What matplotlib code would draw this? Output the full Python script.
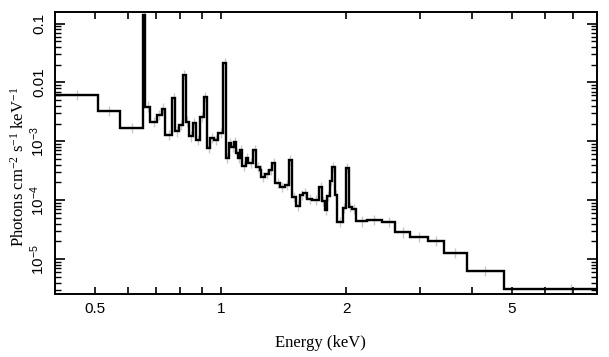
import matplotlib
matplotlib.use("Agg")
import matplotlib.pyplot as plt
import numpy as np
from matplotlib.ticker import FixedLocator, NullFormatter, LogLocator

# ---- data ----
bin_edges = [0.40, 0.5085, 0.5744, 0.6508, 0.6580, 0.6766, 0.7035, 0.7211, 0.7355,
             0.7641, 0.7769, 0.7921, 0.8122, 0.8236, 0.8397, 0.8564, 0.8730, 0.8926,
             0.9101, 0.9254, 0.9435, 0.9646, 0.9835, 1.0140, 1.0281, 1.0453, 1.0600,
             1.0747, 1.0867, 1.0987, 1.1141, 1.1265, 1.1517, 1.1646, 1.1973, 1.2174,
             1.2413, 1.2516, 1.2762, 1.3048, 1.3304, 1.3527, 1.3868, 1.4257, 1.4576,
             1.4821, 1.5153, 1.5535, 1.5796, 1.6105, 1.6557, 1.7211, 1.7500, 1.7744,
             1.7991, 1.8243, 1.8446, 1.8756, 1.8965, 1.9606, 1.9937, 2.0271, 2.0669,
             2.1132, 2.2424, 2.4363, 2.6231, 2.8502, 3.1405, 3.4277, 3.9021, 4.7804,
             10.0]

flux = [6.11e-3, 3.31e-3, 1.70e-3, 1.394e-1, 3.90e-3, 2.13e-3, 2.80e-3, 3.60e-3,
        1.28e-3, 5.43e-3, 1.47e-3, 1.89e-3, 1.335e-2, 2.17e-3, 1.21e-3, 2.05e-3,
        1.05e-3, 2.59e-3, 5.65e-3, 7.69e-4, 1.14e-3, 1.05e-3, 1.38e-3, 2.14e-2,
        5.21e-4, 9.36e-4, 8.00e-4, 9.73e-4, 6.33e-4, 5.21e-4, 7.12e-4, 3.81e-4,
        5.21e-4, 4.28e-4, 7.12e-4, 3.66e-4, 3.26e-4, 2.48e-4, 2.79e-4, 3.26e-4,
        4.28e-4, 1.96e-4, 1.67e-4, 1.81e-4, 4.81e-4, 1.13e-4, 7.97e-5, 1.23e-4,
        1.33e-4, 1.05e-4, 1.01e-4, 1.67e-4, 9.69e-5, 6.82e-5, 1.18e-4, 2.12e-4,
        3.66e-4, 1.23e-4, 4.27e-5, 7.37e-5, 3.52e-4, 7.67e-5, 7.09e-5, 4.35e-5,
        4.61e-5, 4.21e-5, 2.83e-5, 2.34e-5, 2.03e-5, 1.27e-5, 6.28e-6, 3.11e-6]

err_factor = 1.22  # multiplicative size of the grey error bars

x_major = [0.5, 1, 2, 5]
x_major_labels = ["0.5", "1", "2", "5"]
x_minor = [0.6, 0.7, 0.8, 0.9, 3, 4, 6, 7]
y_major = [1e-5, 1e-4, 1e-3, 1e-2, 1e-1]
y_major_labels = [r"$\mathsf{10^{-5}}$", r"$\mathsf{10^{-4}}$", r"$\mathsf{10^{-3}}$",
                  "0.01", "0.1"]

# ---- style ----
plt.rcParams["mathtext.fontset"] = "custom"
plt.rcParams["mathtext.rm"] = "Liberation Serif"
plt.rcParams["mathtext.it"] = "Liberation Serif:italic"
plt.rcParams["mathtext.sf"] = "Liberation Sans"
plt.rcParams["font.family"] = ["Liberation Sans", "DejaVu Sans"]

fig = plt.figure(figsize=(6.09, 3.57), dpi=100)
ax = fig.add_axes([55 / 609, 1 - 294 / 357, (597 - 55) / 609, (294 - 12) / 357])

edges = np.array(bin_edges)
vals = np.array(flux)
centers = np.sqrt(edges[:-1] * edges[1:])
xerr = [centers - edges[:-1], edges[1:] - centers]
yerr = [vals - vals / err_factor, vals * err_factor - vals]

ax.errorbar(centers, vals, xerr=xerr, yerr=yerr, fmt="none", ecolor="#c8c8c8",
            elinewidth=1.0, capsize=0, zorder=1)
ax.stairs(vals, edges, baseline=None, color="black", linewidth=1.7, zorder=3)

ax.set_xscale("log")
ax.set_yscale("log")
ax.set_xlim(0.4, 8.0)
ax.set_ylim(2.555e-6, 0.157)

ax.xaxis.set_major_locator(FixedLocator(x_major))
ax.set_xticklabels(x_major_labels)
ax.xaxis.set_minor_locator(FixedLocator(x_minor))
ax.xaxis.set_minor_formatter(NullFormatter())

ax.yaxis.set_major_locator(FixedLocator(y_major))
ax.set_yticklabels(y_major_labels)
ax.yaxis.set_minor_locator(LogLocator(base=10, subs=np.arange(2, 10), numticks=20))
ax.yaxis.set_minor_formatter(NullFormatter())

for sp in ax.spines.values():
    sp.set_linewidth(1.4)

ax.tick_params(axis="x", which="both", direction="in", top=True, bottom=True,
               length=5, width=1.2, labelsize=11, pad=6)
ax.tick_params(axis="y", which="major", direction="in", left=True, right=True,
               length=7, width=1.2, labelsize=11, pad=6)
ax.tick_params(axis="y", which="minor", direction="in", left=True, right=True,
               length=4, width=1.0)
for lab in ax.get_yticklabels():
    lab.set_rotation(90)
    lab.set_va("center")
    lab.set_ha("right")

ax.set_xlabel("Energy (keV)", family="Liberation Serif", fontsize=12)
ax.xaxis.set_label_coords(0.49, -0.145)
ax.set_ylabel(r"Photons cm$^{-2}$ s$^{-1}$ keV$^{-1}$", family="Liberation Serif",
              fontsize=12)
ax.yaxis.set_label_coords(-0.05, 0.45)

fig.savefig("out.png", dpi=100)
